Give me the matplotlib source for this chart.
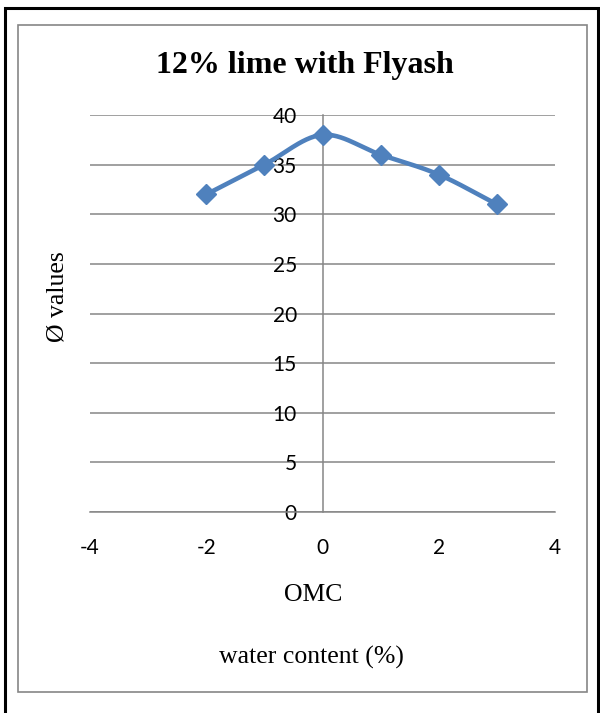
import numpy as np
import matplotlib.pyplot as plt
from matplotlib.patches import Rectangle

# water content relative to OMC (%) and friction angle values
omc_offset = [-2, -1, 0, 1, 2, 3]
phi_values = [32, 35, 38, 36, 34, 31]
x_ticks = [-4, -2, 0, 2, 4]
y_ticks = [0, 5, 10, 15, 20, 25, 30, 35, 40]

LINE_BLUE = '#4F81BD'
GRID_GRAY = '#868686'


def smooth_curve(x, y, n=30):
    # Catmull-Rom path through the points, similar to a spreadsheet "smoothed line"
    x = np.asarray(x, float)
    y = np.asarray(y, float)
    px = np.concatenate([[2 * x[0] - x[1]], x, [2 * x[-1] - x[-2]]])
    py = np.concatenate([[2 * y[0] - y[1]], y, [2 * y[-1] - y[-2]]])
    xs, ys = [], []
    t = np.linspace(0, 1, n)
    for i in range(1, len(px) - 2):
        p0, p1, p2, p3 = [np.array([px[j], py[j]]) for j in range(i - 1, i + 3)]
        seg = 0.5 * ((2 * p1)[:, None] + (-p0 + p2)[:, None] * t
                     + (2 * p0 - 5 * p1 + 4 * p2 - p3)[:, None] * t ** 2
                     + (-p0 + 3 * p1 - 3 * p2 + p3)[:, None] * t ** 3)
        xs.extend(seg[0])
        ys.extend(seg[1])
    return np.array(xs), np.array(ys)


fig = plt.figure(figsize=(6.0, 7.13), dpi=100)

# outer black frame and inner gray chart frame
fig.patches.append(Rectangle((5 / 600, -0.01), 593 / 600, 1 - 8 / 713 + 0.01,
                             transform=fig.transFigure, fill=False,
                             edgecolor='black', linewidth=2.2))
fig.patches.append(Rectangle((18 / 600, 1 - 692 / 713), 569 / 600, 667 / 713,
                             transform=fig.transFigure, fill=False,
                             edgecolor=GRID_GRAY, linewidth=1.2))

ax = fig.add_axes([90 / 600, 1 - 512 / 713, 465 / 600, 397 / 713])
ax.set_xlim(-4, 4)
ax.set_ylim(0, 40)

for yv in y_ticks:
    ax.axhline(yv, color=GRID_GRAY, linewidth=1.1, zorder=1)

sx, sy = smooth_curve(omc_offset, phi_values)
ax.plot(sx, sy, color=LINE_BLUE, linewidth=3.3, zorder=3, solid_capstyle='round')
ax.plot(omc_offset, phi_values, linestyle='none', marker='D', markersize=10.5,
        color=LINE_BLUE, zorder=4)

for side in ['top', 'right']:
    ax.spines[side].set_visible(False)
ax.spines['left'].set_position(('data', 0))
ax.spines['left'].set_color(GRID_GRAY)
ax.spines['left'].set_linewidth(1.1)
ax.spines['bottom'].set_color(GRID_GRAY)
ax.spines['bottom'].set_linewidth(1.1)

tick_font = {'family': 'Lato', 'size': 15}
ax.set_xticks(x_ticks)
ax.set_xticklabels([str(v) for v in x_ticks], fontdict=tick_font)
ax.set_yticks(y_ticks)
ax.set_yticklabels([str(v) for v in y_ticks], fontdict=tick_font)
ax.tick_params(axis='x', length=0, pad=19)
ax.tick_params(axis='y', length=0, pad=18.5)

fig.text(305 / 600, 1 - 65 / 713, '12% lime with Flyash', ha='center', va='center',
         family='Liberation Serif', fontweight='bold', fontsize=23)
fig.text(313 / 600, 1 - 595 / 713, 'OMC', ha='center', va='center',
         family='Liberation Serif', fontsize=18.5)
fig.text(311 / 600, 1 - 657 / 713, 'water content (%)', ha='center', va='center',
         family='Liberation Serif', fontsize=18.5)
fig.text(57 / 600, 1 - 297 / 713, 'Ø values', ha='center', va='center', rotation=90,
         family='Liberation Serif', fontsize=18.5)

fig.savefig('out.png', dpi=100)
